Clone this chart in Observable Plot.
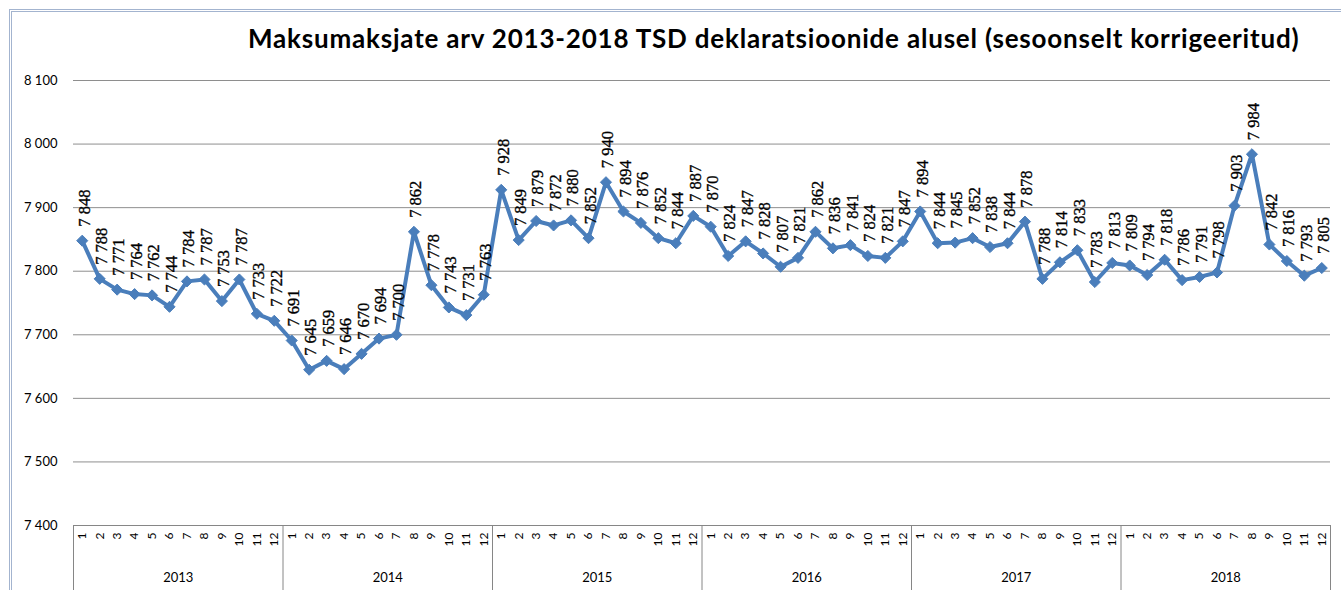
<!DOCTYPE html>
<html>
<head>
<meta charset="utf-8">
<script src="https://cdn.jsdelivr.net/npm/d3@7"></script>
<script src="https://cdn.jsdelivr.net/npm/@observablehq/plot@0.6"></script>
<style>
  html, body { margin: 0; padding: 0; background: #fff; }
  #wrap { position: relative; width: 1341px; height: 590px; overflow: hidden; }
  #border { position: absolute; left: 9px; top: 9px; width: 1340px; height: 600px;
            border-top: 3px double #a3b4cf; border-left: 3px double #a3b4cf; box-sizing: border-box; }
  #title { position: absolute; left: 248px; top: 22px; white-space: nowrap; letter-spacing: 0.8px;
           font-family: Lato, "Open Sans", sans-serif; font-weight: bold; font-size: 26px; color: #000; }
  svg { position: absolute; left: 0; top: 0; }
</style>
</head>
<body>
<div id="wrap">
  <div id="border"></div>
  <div id="title">Maksumaksjate arv 2013-2018 TSD deklaratsioonide alusel (sesoonselt korrigeeritud)</div>
</div>
<script>
const years = [2013, 2014, 2015, 2016, 2017, 2018];
const months = [1, 2, 3, 4, 5, 6, 7, 8, 9, 10, 11, 12];
const v2013 = [7848, 7788, 7771, 7764, 7762, 7744, 7784, 7787, 7753, 7787, 7733, 7722];
const v2014 = [7691, 7645, 7659, 7646, 7670, 7694, 7700, 7862, 7778, 7743, 7731, 7763];
const v2015 = [7928, 7849, 7879, 7872, 7880, 7852, 7940, 7894, 7876, 7852, 7844, 7887];
const v2016 = [7870, 7824, 7847, 7828, 7807, 7821, 7862, 7836, 7841, 7824, 7821, 7847];
const v2017 = [7894, 7844, 7845, 7852, 7838, 7844, 7878, 7788, 7814, 7833, 7783, 7813];
const v2018 = [7809, 7794, 7818, 7786, 7791, 7798, 7903, 7984, 7842, 7816, 7793, 7805];
const yTicks = [7400, 7500, 7600, 7700, 7800, 7900, 8000, 8100];

const seriesByYear = [v2013, v2014, v2015, v2016, v2017, v2018];
const data = [];
years.forEach((yr, yi) => {
  months.forEach((m, mi) => {
    data.push({i: yi * months.length + mi, year: yr, month: m, value: seriesByYear[yi][mi]});
  });
});
const n = data.length;
const yearCenters = years.map((yr, yi) => ({year: yr, i: yi * months.length + (months.length - 1) / 2}));
const separators = d3.range(years.length + 1).map(k => k * months.length - 0.5);

const fmt = d => d3.format(",")(d).replace(/,/g, " ");
const blue = "#4a7ebb";
const yMin = yTicks[0];

const chart = Plot.plot({
  width: 1341,
  height: 590,
  marginLeft: 73,
  marginRight: 11,
  marginTop: 80,
  marginBottom: 65,
  style: {background: "transparent", overflow: "visible"},
  x: {type: "linear", domain: [-0.5, n - 0.5], axis: null},
  y: {domain: [yTicks[0], yTicks[yTicks.length - 1]], axis: null},
  marks: [
    Plot.ruleY(yTicks.slice(1), {stroke: "#8e8e8e", strokeWidth: 1}),
    Plot.ruleY([yMin], {stroke: "#868686", strokeWidth: 1}),
    Plot.axisY({ticks: yTicks, tickSize: 0, tickPadding: 16, tickFormat: fmt, fontSize: 13,
                fontFamily: "Lato, 'Liberation Sans', sans-serif", fill: "#000", label: null}),
    Plot.axisX({ticks: separators, tickSize: 65, tickFormat: () => "", stroke: "#868686", label: null}),
    Plot.text(data, {x: "i", y: () => yMin, text: d => String(d.month), rotate: -90,
                     textAnchor: "end", lineAnchor: "middle", dy: 7, fontSize: 12,
                     fontFamily: "Lato, 'Liberation Sans', sans-serif", fill: "#000"}),
    Plot.text(yearCenters, {x: "i", y: () => yMin, text: d => String(d.year), dy: 52,
                     fontSize: 13, fontFamily: "Lato, 'Liberation Sans', sans-serif", fill: "#000"}),
    Plot.line(data, {x: "i", y: "value", stroke: blue, strokeWidth: 4, strokeLinejoin: "round"}),
    Plot.dot(data, {x: "i", y: "value", symbol: "diamond2", r: 5, fill: blue, stroke: blue, strokeWidth: 1}),
    Plot.text(data, {x: "i", y: "value", text: d => fmt(d.value), rotate: -90, textAnchor: "start",
                     lineAnchor: "middle", dy: -14, dx: 2, fontSize: 16.5,
                     stroke: "#000", strokeWidth: 0.35,
                     fontFamily: "'Liberation Serif', 'DejaVu Serif', serif", fill: "#000"})
  ]
});
document.getElementById("wrap").prepend(chart);
</script>
</body>
</html>
